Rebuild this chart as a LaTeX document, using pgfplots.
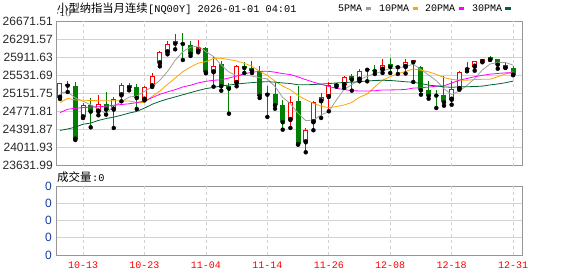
\documentclass[border=0pt]{standalone}
\usepackage{fontspec}
\setmainfont{Liberation Sans}
\newfontfamily\cjk{Noto Sans CJK SC}
\newfontfamily\mono{Liberation Mono}
\usepackage{pgfplots}
\pgfplotsset{compat=1.18}
\usepackage{pgfplotstable}
\definecolor{candred}{RGB}{255,0,0}
\definecolor{candgreen}{RGB}{0,128,0}
\definecolor{maA}{RGB}{160,160,160}
\definecolor{maB}{RGB}{255,165,0}
\definecolor{maC}{RGB}{255,0,255}
\definecolor{maD}{RGB}{0,100,50}
\definecolor{gridc}{RGB}{210,210,210}
\definecolor{framec}{RGB}{150,150,150}
\definecolor{volblue}{RGB}{20,60,160}
\definecolor{labc}{RGB}{40,40,40}

% up (red hollow) candles
\pgfplotstableread{
i O H L C
0 25058 25365 25031 25361
3 24646 24947 24631 24898
5 24765 25108 24688 24933
7 24807 25066 24421 25024
8 25108 25375 24982 25319
11 25017 25298 25003 25284
12 25298 25578 25284 25508
13 25781 26048 25718 26013
14 26013 26244 25971 26181
15 26194 26391 26076 26245
18 26034 26278 26013 26125
20 25593 25908 25290 25731
23 25368 25752 25298 25719
27 25122 25298 24653 25151
30 24589 25094 24421 24978
32 24120 24421 23910 24373
33 24541 24983 24373 24961
34 24983 25157 24632 25073
35 25073 25389 24772 25332
37 25319 25521 25262 25487
39 25437 25668 25403 25626
40 25645 25683 25403 25666
42 25647 25872 25578 25746
45 25704 25872 25567 25809
46 25803 25860 25389 25851
51 25016 25403 24911 25241
52 25241 25626 25227 25599
53 25658 25803 25614 25682
54 25710 25837 25626 25824
55 25824 25878 25803 25872
}\up

% down (green filled) candles
\pgfplotstableread{
i O H L C
1 25347 25403 25178 25312
2 25298 25389 24169 24197
4 24898 25052 24435 24765
6 24933 25178 24702 24807
9 25333 25375 25213 25270
10 25284 25347 24821 25052
16 26215 26425 25851 26188
17 26167 26245 25935 25984
19 26104 26118 25572 25593
21 25767 25837 25206 25298
22 25305 25374 24722 25248
24 25731 25809 25578 25683
25 25683 25837 25578 25626
26 25626 25719 25052 25100
28 25136 25361 24827 24899
29 24899 25016 24386 24541
31 24989 25311 24070 24085
36 25340 25368 25290 25318
38 25521 25557 25206 25437
41 25641 25746 25557 25619
43 25774 25887 25578 25704
44 25725 25746 25557 25698
47 25704 25719 25122 25214
48 25227 25403 25037 25100
49 25125 25227 24842 25102
50 25122 25508 24890 24961
56 25908 25929 25851 25858
57 25872 25878 25668 25752
58 25746 25803 25683 25689
59 25683 25731 25530 25542
}\down

% white inside of the hollow red bodies
\pgfplotstableread{
i lo hi
0 25079 25340
3 24667 24877
5 24786 24912
7 24828 25003
8 25129 25298
11 25038 25263
12 25319 25487
13 25802 25992
14 26034 26160
18 26055 26104
20 25614 25710
23 25389 25698
30 24610 24957
32 24141 24352
33 24562 24940
34 25004 25052
35 25094 25311
37 25340 25466
39 25458 25605
42 25668 25725
45 25725 25788
51 25037 25220
52 25262 25578
54 25731 25803
}\hollow

\pgfplotstableread{
i v
0 25157
1 25178
2 25052
3 24983
4 24907
5 24821
6 24720
7 24885
8 24970
9 25071
10 25094
11 25190
12 25287
13 25425
14 25608
15 25846
16 26027
17 26122
18 26145
19 26027
20 25924
21 25746
22 25599
23 25518
24 25536
25 25515
26 25475
27 25456
28 25292
29 25063
30 24934
31 24731
32 24575
33 24588
34 24694
35 24765
36 25013
37 25236
38 25331
39 25441
40 25506
41 25565
42 25617
43 25670
44 25685
45 25715
46 25762
47 25655
48 25534
49 25416
50 25247
51 25125
52 25202
53 25318
54 25461
55 25643
56 25767
57 25797
58 25799
59 25743
}\mafive

\pgfplotstableread{
i v
0 24955
1 25045
2 25010
3 25005
4 25000
5 24995
6 24995
7 24995
8 24990
9 24989
10 24958
11 24955
12 25086
13 25198
14 25339
15 25470
16 25608
17 25704
18 25785
19 25817
20 25885
21 25887
22 25861
23 25831
24 25781
25 25720
26 25611
27 25527
28 25405
29 25300
30 25224
31 25103
32 25016
33 24940
34 24879
35 24849
36 24872
37 24905
38 24959
39 25068
40 25135
41 25289
42 25426
43 25500
44 25563
45 25611
46 25663
47 25636
48 25602
49 25550
50 25481
51 25443
52 25428
53 25426
54 25439
55 25445
56 25446
57 25499
58 25558
59 25602
}\maten

\pgfplotstableread{
i v
0 24745
1 24815
2 24835
3 24850
4 24860
5 24868
6 24880
7 24900
8 24915
9 24930
10 24955
11 24990
12 25060
13 25130
14 25180
15 25227
16 25285
17 25320
18 25370
19 25403
20 25425
21 25435
22 25473
23 25514
24 25560
25 25595
26 25610
27 25616
28 25595
29 25565
30 25545
31 25495
32 25438
33 25385
34 25340
35 25295
36 25255
37 25230
38 25205
39 25200
40 25198
41 25205
42 25221
43 25222
44 25224
45 25232
46 25260
47 25268
48 25281
49 25300
50 25308
51 25366
52 25427
53 25463
54 25501
55 25528
56 25554
57 25568
58 25580
59 25580
}\matwenty

\pgfplotstableread{
i v
0 24370
1 24400
2 24440
3 24500
4 24525
5 24580
6 24620
7 24650
8 24690
9 24735
10 24770
11 24840
12 24920
13 24980
14 25030
15 25075
16 25120
17 25165
18 25210
19 25250
20 25275
21 25305
22 25325
23 25345
24 25362
25 25375
26 25388
27 25395
28 25385
29 25369
30 25356
31 25330
32 25330
33 25335
34 25345
35 25355
36 25368
37 25379
38 25383
39 25395
40 25410
41 25420
42 25425
43 25420
44 25408
45 25393
46 25382
47 25356
48 25322
49 25306
50 25285
51 25278
52 25285
53 25289
54 25293
55 25302
56 25327
57 25347
58 25373
59 25407
}\mathirty

\pgfplotsset{
  candle/.style={forget plot, only marks, mark=none,
    error bars/.cd, y dir=plus, y explicit, error mark=none},
}

\begin{document}
\begin{tikzpicture}[x=1bp,y=1bp]
\useasboundingbox (0,0) rectangle (578,276);
\fill[white] (0,0) rectangle (578,276);

% title
\node[anchor=base west, inner sep=0pt, font=\cjk\fontsize{11.3bp}{13bp}\selectfont] at (57,264) {小型纳指当月连续};
\node[anchor=base west, inner sep=0pt, font=\mono\fontsize{10.3bp}{13bp}\selectfont] at (148,264) {[NQ00Y] 2026-01-01 04:01};

% legend
\begin{scope}[every node/.style={anchor=base west, inner sep=0pt, font=\mono\fontsize{10bp}{12bp}\selectfont}]
\node at (338,264.5) {5PMA};
\fill[maA] (366,266) rectangle (371,268.5);
\node at (379,264.5) {10PMA};
\fill[maB] (413,266) rectangle (418,268.5);
\node at (425,264.5) {20PMA};
\fill[maC] (459,266) rectangle (464,268.5);
\node at (472,264.5) {30PMA};
\fill[maD] (505,266) rectangle (511,268.5);
\end{scope}

% main price panel
\begin{axis}[
  at={(56bp,110.5bp)}, anchor=south west,
  scale only axis, width=466bp, height=144.5bp,
  xmin=-0.52, xmax=60.16, ymin=23631.99, ymax=26671.51,
  axis line style={draw=framec, line width=0.9bp},
  major tick length=0pt,
  xtick=\empty,
  extra x ticks={3,11,19,27,35,43,51,59},
  extra x tick labels={},
  extra x tick style={grid=major, major grid style={draw=gridc, line width=0.8bp, dash pattern=on 3bp off 3bp}},
  ytick={23631.99,24011.93,24391.87,24771.81,25151.75,25531.69,25911.63,26291.57,26671.51},
  yticklabels={23631.99,24011.93,24391.87,24771.81,25151.75,25531.69,25911.63,26291.57,26671.51},
  yticklabel style={font=\fontsize{12bp}{14bp}\selectfont, text=labc, anchor=east, inner sep=0pt, xshift=-3bp},
  ymajorgrids,
  major grid style={draw=gridc, line width=0.8bp},
]
% down candles
\addplot[candle, error bar style={draw=candgreen, line width=1bp}]
  table[x=i, y=L, y error plus expr=\thisrow{H}-\thisrow{L}] {\down};
\addplot[candle, error bar style={draw=candgreen, line width=5bp}]
  table[x=i, y=C, y error plus expr=\thisrow{O}-\thisrow{C}] {\down};
% up candles
\addplot[candle, error bar style={draw=candred, line width=1bp}]
  table[x=i, y=L, y error plus expr=\thisrow{H}-\thisrow{L}] {\up};
\addplot[candle, error bar style={draw=candred, line width=5bp}]
  table[x=i, y=O, y error plus expr=\thisrow{C}-\thisrow{O}] {\up};
\addplot[candle, error bar style={draw=white, line width=3bp}]
  table[x=i, y=lo, y error plus expr=\thisrow{hi}-\thisrow{lo}] {\hollow};
% moving averages
\addplot[maA, line width=0.8bp, mark=none] table[x=i, y=v] {\mafive};
\addplot[maB, line width=0.8bp, mark=none] table[x=i, y=v] {\maten};
\addplot[maC, line width=0.8bp, mark=none] table[x=i, y=v] {\matwenty};
\addplot[maD, line width=0.8bp, mark=none] table[x=i, y=v] {\mathirty};
\end{axis}

% volume label
\node[anchor=base west, inner sep=0pt, font=\cjk\fontsize{11.5bp}{13bp}\selectfont] at (57,94.5) {成交量};
\node[anchor=base west, inner sep=0pt, font=\mono\fontsize{10.3bp}{13bp}\selectfont] at (92,94.5) {:0};

% volume panel
\begin{axis}[
  at={(56bp,21bp)}, anchor=south west,
  scale only axis, width=466bp, height=69bp,
  xmin=-0.52, xmax=60.16, ymin=0, ymax=4,
  axis line style={draw=framec, line width=0.9bp},
  major tick length=0pt,
  xtick=\empty,
  extra x ticks={3,11,19,27,35,43,51,59},
  extra x tick labels={10-13,10-23,11-04,11-14,11-26,12-08,12-18,12-31},
  extra x tick style={grid=major, major grid style={draw=gridc, line width=0.8bp, dash pattern=on 3bp off 3bp},
    xticklabel style={font=\mono\fontsize{10bp}{12bp}\selectfont, text=candred, anchor=north, inner sep=0pt, yshift=-7bp}},
  ytick={0,1,2,3,4},
  yticklabels={0,0,0,0,0},
  yticklabel style={font=\fontsize{12bp}{14bp}\selectfont, text=volblue, anchor=east, inner sep=0pt, xshift=-4bp},
  ymajorgrids,
  major grid style={draw=gridc, line width=0.8bp},
]
\addplot[draw=none, mark=none, forget plot] coordinates {(0,0) (59,0)};
\end{axis}
\end{tikzpicture}
\end{document}
